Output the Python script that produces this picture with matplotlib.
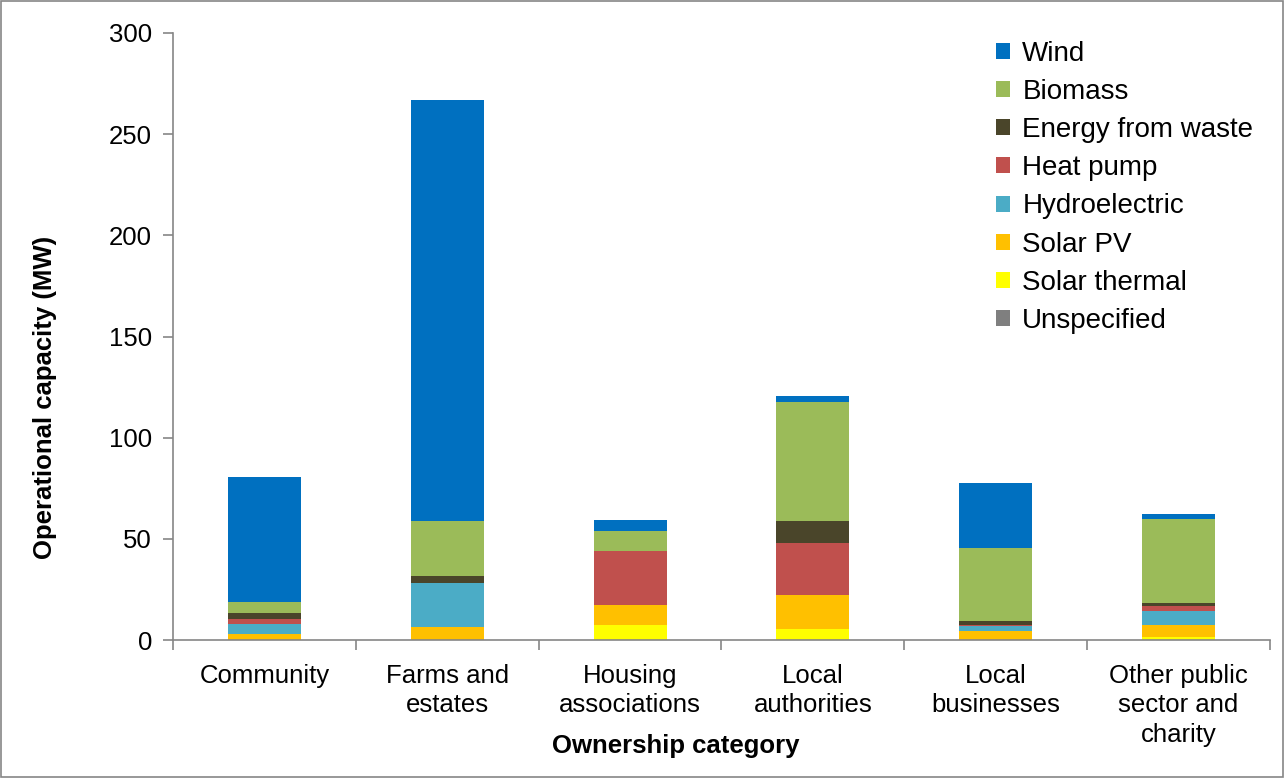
import matplotlib
matplotlib.use('Agg')
import matplotlib.pyplot as plt
import numpy as np

plt.rcParams['font.family'] = ['Liberation Sans', 'DejaVu Sans']

categories = ['Community', 'Farms and\nestates', 'Housing\nassociations', 'Local\nauthorities',
              'Local\nbusinesses', 'Other public\nsector and\ncharity']

# bottom to top
unspecified = [0, 0, 0, 0, 0.2, 0]
solar_thermal = [0, 0, 7.3, 5.6, 0, 1.5]
solar_pv = [3.0, 6.4, 10.0, 16.5, 4.3, 5.9]
hydro = [4.8, 21.6, 0, 0, 2.3, 7.1]
heat_pump = [2.6, 0.3, 26.7, 25.8, 0.7, 2.3]
energy_waste = [2.8, 3.3, 0, 11.1, 2.1, 1.7]
biomass = [5.7, 27.2, 9.7, 58.6, 35.9, 41.2]
wind = [61.7, 208.0, 5.5, 3.0, 32.3, 2.6]

series = [
    ('Unspecified', unspecified, '#7F7F7F'),
    ('Solar thermal', solar_thermal, '#FFFF00'),
    ('Solar PV', solar_pv, '#FFC000'),
    ('Hydroelectric', hydro, '#4BACC6'),
    ('Heat pump', heat_pump, '#C0504D'),
    ('Energy from waste', energy_waste, '#4A452A'),
    ('Biomass', biomass, '#9BBB59'),
    ('Wind', wind, '#0070C0'),
]

fig = plt.figure(figsize=(12.84, 7.78), dpi=100)
ax = fig.add_axes([173 / 1284, 1 - 640 / 778, 1097 / 1284, 607 / 778])

x = np.arange(len(categories))
bottom = np.zeros(len(categories))
handles = []
for name, vals, col in series:
    b = ax.bar(x, vals, 0.4, bottom=bottom, color=col, label=name)
    handles.append(b)
    bottom += np.array(vals)

ax.set_xlim(-0.5, len(categories) - 0.5)
ax.set_ylim(0, 300)
ax.set_yticks(range(0, 301, 50))
ax.set_xticks(x)
ax.set_xticklabels(categories, fontsize=18.5, linespacing=1.3)
ax.set_xticks(np.arange(-0.5, len(categories)), minor=True)
ax.tick_params(axis='x', which='major', length=0, pad=17)
ax.tick_params(axis='x', which='minor', length=7, color='#868686', width=1.2)
ax.tick_params(axis='y', labelsize=18.5, length=7, color='#868686', width=1.2, pad=8)

for s in ['top', 'right']:
    ax.spines[s].set_visible(False)
for s in ['left', 'bottom']:
    ax.spines[s].set_color('#868686')
    ax.spines[s].set_linewidth(1.2)

fig.text(45 / 1284, 1 - 397 / 778, 'Operational capacity (MW)', rotation=90,
         ha='center', va='center', fontsize=18.5, fontweight='bold')
fig.text(676 / 1284, 1 - 746 / 778, 'Ownership category',
         ha='center', va='center', fontsize=18.5, fontweight='bold')

leg = ax.legend(handles[::-1], [s[0] for s in series][::-1], loc='upper right',
                bbox_to_anchor=(1.0, 1.015), frameon=False, fontsize=20,
                handlelength=0.5, handleheight=0.5, handletextpad=0.45, labelspacing=0.44,
                borderaxespad=0.2)

# border around the whole figure
fig.patches.append(plt.Rectangle((0.001, 0.001), 0.998, 0.998, transform=fig.transFigure,
                                 fill=False, edgecolor='#868686', linewidth=1.2))

fig.savefig('out.png', dpi=100)
